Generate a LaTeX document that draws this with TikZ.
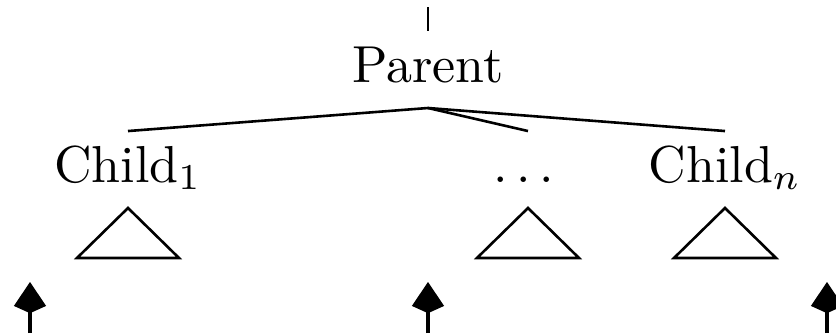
\documentclass[tikz,border=0pt]{standalone}
\usepackage{amsmath}
\usepackage{tikz}
\usetikzlibrary{arrows.meta}

\begin{document}
\begin{tikzpicture}[x=0.1923pt,y=-0.1923pt,
  treenode/.style={inner sep=1.2pt,execute at begin node=\strut},
  edge/.style={line width=0.5pt},
  roof/.style={line width=0.5pt,line join=miter},
  marker/.style={line width=0.6pt,-{Kite[length=6pt,width=6.2pt,inset=1.4pt]}}]
  \useasboundingbox (0,0) rectangle (836,333);
  \node[treenode,anchor=base] (parent) at (428,82) {Parent};
  \node[treenode,anchor=base] (child1) at (128,182) {Child$_1$};
  \node[treenode,anchor=base] (dots) at (528,182) {$\dots$};
  \node[treenode,anchor=base] (childn) at (725,182) {Child$_n$};
  \coordinate (stem) at (428,7);
  \draw[edge] (stem) -- (parent.north);
  \draw[edge] (parent.south) -- (child1.north);
  \draw[edge] (parent.south) -- (dots.north);
  \draw[edge] (parent.south) -- (childn.north);
  \draw[roof] (child1.south) -- ++(-51,50) -- ++(102,0) -- cycle;
  \draw[roof] (dots.south) -- ++(-51,50) -- ++(102,0) -- cycle;
  \draw[roof] (childn.south) -- ++(-51,50) -- ++(102,0) -- cycle;
  \foreach \x [count=\i] in {30,428,827} {
    \coordinate (foot\i) at (\x,333);
    \coordinate (tip\i) at (\x,282);
    \draw[marker] (foot\i) -- (tip\i);
  }
\end{tikzpicture}
\end{document}
